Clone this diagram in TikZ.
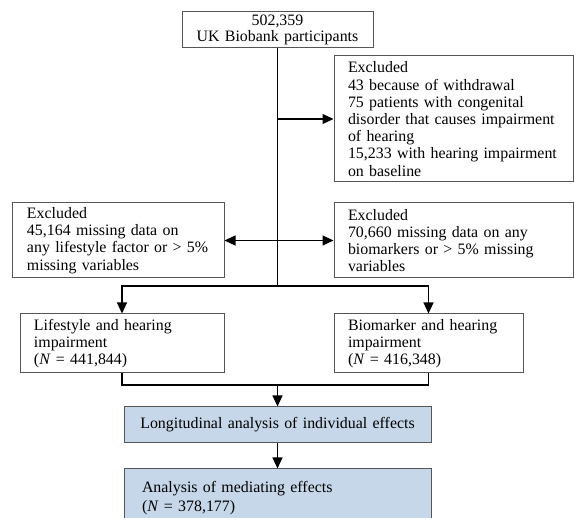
\documentclass[tikz,border=0pt]{standalone}
\usepackage{fontspec}
\setmainfont{Liberation Serif}
\usepackage{xcolor}
\usetikzlibrary{arrows.meta}
\usetikzlibrary{math}

\definecolor{boxgray}{RGB}{85,85,85}
\definecolor{boxblue}{RGB}{197,215,233}

\tikzset{
 box/.style={draw=boxgray, line width=1pt, inner xsep=14pt, inner ysep=0pt, align=left, font=\fontsize{15.9}{17.2}\selectfont},
 bluebox/.style={box, fill=boxblue},
 conn/.style={line width=1.2pt},
 >={Triangle[length=11pt,width=10pt]}
}

\begin{document}
\begin{tikzpicture}[x=1pt,y=-1pt]
\tikzmath{
\xs=277.5;
\ysplit=286;
\ymerge=385;
}
\useasboundingbox (0,0) rectangle (574,518);
\clip (0,0) rectangle (574,518);

\node[box, align=center, text width=163pt, minimum height=36pt, font=\fontsize{15.9}{15.8}\selectfont] (parts) at (\xs,30) {502,359\\UK Biobank participants};

\node[box, text width=211pt, minimum height=126pt] (exbase) at (453.5,119) {Excluded\\43 because of withdrawal\\75 patients with congenital\\disorder that causes impairment\\of hearing\\15,233 with hearing impairment\\on baseline};

\node[box, inner xsep=15pt, text width=182pt, minimum height=75pt] (exlife) at (118,240.5) {Excluded\\45,164 missing data on\\any lifestyle factor or > 5\%\\missing variables};
\node[box, text width=211pt, minimum height=75pt] (exbio) at (453.5,240.5) {Excluded\\70,660 missing data on any\\biomarkers or > 5\% missing\\variables};

\node[box, text width=176pt, minimum height=59pt] (life) at (122,343.5) {Lifestyle and hearing\\impairment\\(\textit{N} = 441,844)};
\node[box, text width=161pt, minimum height=59pt] (bio) at (428.5,343.5) {Biomarker and hearing\\impairment\\(\textit{N} = 416,348)};

\node[bluebox, align=center, text width=279pt, minimum height=36pt] (long) at (\xs,425) {Longitudinal analysis of individual effects};
\node[bluebox, inner xsep=18pt, text width=271pt, minimum height=58pt] (med) at (\xs,498) {Analysis of mediating effects\\[2pt](\textit{N} = 378,177)};

\coordinate (split) at (\xs,\ysplit);
\coordinate (merge) at (\xs,\ymerge);

% spine and exclusions
\draw[conn] (parts.south) -- (split);
\draw[conn,->] (parts.south |- exbase.west) -- (exbase.west);
\draw[conn,<->] (exlife.east) -- (exbio.west);

% two cohorts
\draw[conn,->] (split) -| (life.north);
\draw[conn,->] (split) -| (bio.north);
\draw[conn] (life.south) |- (merge);
\draw[conn] (bio.south) |- (merge);
\draw[conn,->] (merge) -- (long.north);
\draw[conn,->] (long.south) -- (med.north);

\end{tikzpicture}
\end{document}
